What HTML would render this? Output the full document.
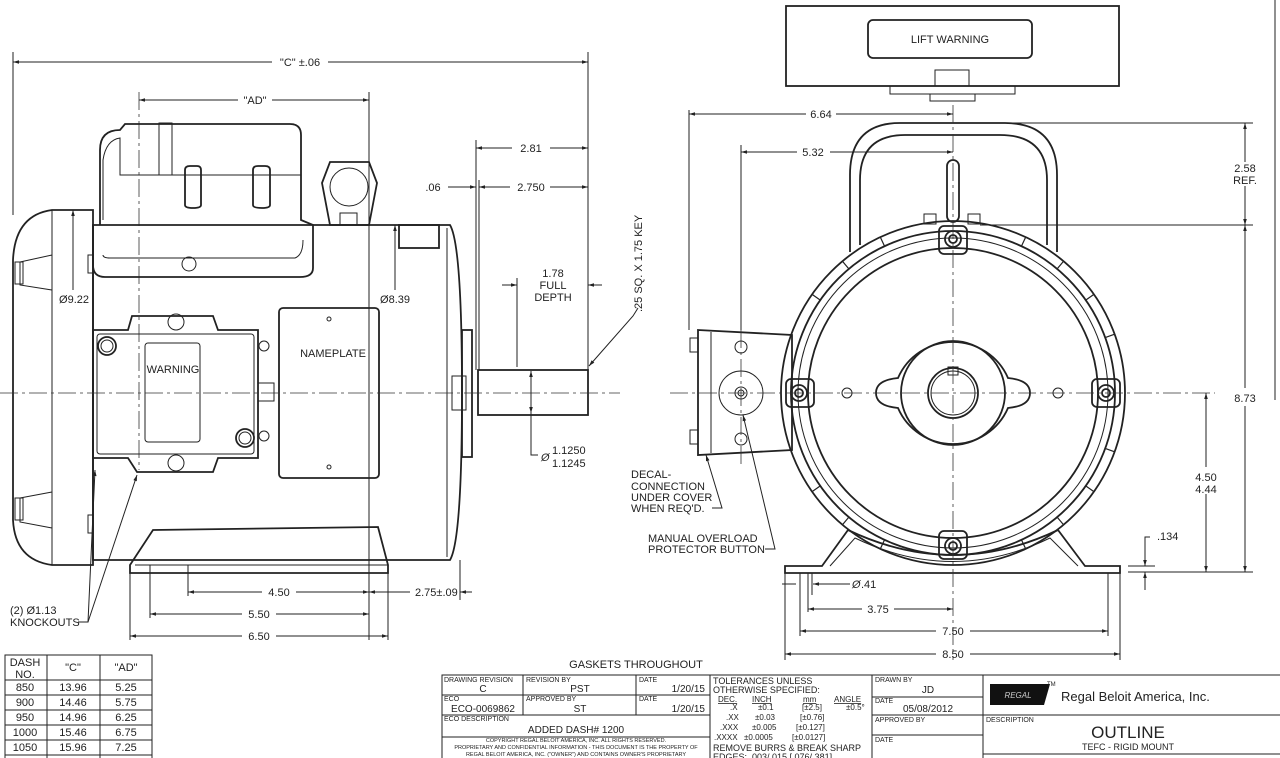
<!DOCTYPE html>
<html><head><meta charset="utf-8"><style>
html,body{margin:0;padding:0;background:#fff;}
svg{display:block;font-family:"Liberation Sans",sans-serif;}
text{fill:#222;}
.s{stroke:#222;stroke-width:1;fill:none;}
.t{stroke:#222;stroke-width:1.8;fill:none;}
.c{stroke:#333;stroke-width:0.8;fill:none;stroke-dasharray:18 4 3 4;}
.d{font-size:11px;}
.sm{font-size:7px;}
</style></head><body>
<svg width="1280" height="758" viewBox="0 0 1280 758" xmlns="http://www.w3.org/2000/svg">
<defs>
<marker id="a" viewBox="0 0 10 10" refX="10" refY="5" markerWidth="9" markerHeight="6" orient="auto-start-reverse"><path d="M0,2 L10,5 L0,8z" fill="#222"/></marker>
</defs>

<!-- ================= SIDE VIEW ================= -->
<line class="s" x1="13" y1="52" x2="13" y2="215"/>
<line class="s" x1="588" y1="52" x2="588" y2="370"/>
<line class="s" x1="13" y1="62" x2="272" y2="62" marker-start="url(#a)"/>
<line class="s" x1="328" y1="62" x2="588" y2="62" marker-end="url(#a)"/>
<text class="d" x="300" y="66" text-anchor="middle">"C" ±.06</text>
<line class="s" x1="369" y1="92" x2="369" y2="640"/>
<line class="c" x1="139" y1="92" x2="139" y2="470"/>
<line class="s" x1="139" y1="100" x2="238" y2="100" marker-start="url(#a)"/>
<line class="s" x1="272" y1="100" x2="369" y2="100" marker-end="url(#a)"/>
<text class="d" x="255" y="104" text-anchor="middle">"AD"</text>

<path class="t" d="M93,210 L52,210 Q15,215 13,260 L13,520 Q15,560 52,565 L93,565 Z"/>
<line class="s" x1="52" y1="210" x2="52" y2="565"/>
<path class="s" d="M20,262 L52,255 L52,290 L20,285 Z M20,498 L52,492 L52,528 L20,522 Z"/>
<rect class="s" x="15" y="262" width="8" height="22"/>
<rect class="s" x="15" y="498" width="8" height="22"/>
<path class="t" d="M93,225 L93,560 L450,560 Q462,540 462,393 Q462,245 450,225 Z"/>
<line class="s" x1="447" y1="228" x2="447" y2="557"/>
<rect class="s" x="88" y="255" width="5" height="18"/><rect class="s" x="88" y="515" width="5" height="18"/>
<path class="t" d="M100,225 L100,150 Q100,130 120,130 L125,124 L290,124 Q301,124 301,135 L301,220 L313,225 L313,268 Q313,277 300,277 L105,277 Q93,277 93,265 L93,225"/>
<path class="s" d="M103,220 L103,160 Q106,140 120,138 L120,175 L301,175"/>
<path class="s" d="M103,255 Q103,258 110,258 L295,258 Q303,255 303,240"/>
<rect class="s" x="159" y="123" width="13" height="52"/>
<path class="t" d="M185,205 L185,170 Q185,166 190,166 L197,166 Q201,166 201,170 L201,205 Q201,208 193,208 Q185,208 185,205Z"/>
<path class="t" d="M253,205 L253,170 Q253,166 258,166 L265,166 Q270,166 270,170 L270,205 Q270,208 262,208 Q253,208 253,205Z"/>
<circle class="s" cx="189" cy="264" r="7"/>
<path class="t" d="M330,162 L369,162 L377,183 L369,225 L330,225 L322,183 Z"/>
<circle class="s" cx="349" cy="187" r="19"/>
<rect class="s" x="340" y="213" width="17" height="12"/>
<rect class="t" x="399" y="225" width="40" height="23"/>
<path class="t" d="M93,330 L128,330 L132,316 L213,316 L218,330 L258,330 L258,458 L218,458 L213,472 L137,472 L128,458 L93,458 Z"/>
<rect class="s" x="97" y="334" width="157" height="120" rx="3"/>
<rect class="s" x="145" y="343" width="55" height="99" rx="3"/>
<text class="d" x="173" y="373" text-anchor="middle">WARNING</text>
<circle class="t" cx="107" cy="346" r="9"/><circle class="s" cx="107" cy="346" r="6"/>
<circle class="t" cx="245" cy="438" r="9"/><circle class="s" cx="245" cy="438" r="6"/>
<circle class="s" cx="176" cy="322" r="8"/><circle class="s" cx="176" cy="463" r="8"/>
<rect class="s" x="258" y="383" width="16" height="18"/>
<circle class="s" cx="264" cy="346" r="5"/><circle class="s" cx="264" cy="436" r="5"/>
<rect class="t" x="279" y="308" width="100" height="170" rx="4"/>
<text class="d" x="333" y="357" text-anchor="middle">NAMEPLATE</text>
<circle class="s" cx="329" cy="319" r="2"/><circle class="s" cx="329" cy="467" r="2"/>
<path class="t" d="M130,573 L130,565 L153,530 L378,527 L388,565 L388,573 Z"/>
<line class="s" x1="135" y1="565" x2="388" y2="565"/>
<rect class="t" x="462" y="330" width="10" height="127" fill="#444"/>
<rect class="s" x="452" y="376" width="14" height="34"/>
<rect class="t" x="478" y="370" width="110" height="45"/>
<line class="c" x1="0" y1="393" x2="620" y2="393"/>
<line class="s" x1="476" y1="140" x2="476" y2="370"/>
<line class="s" x1="476" y1="148" x2="512" y2="148" marker-start="url(#a)"/>
<line class="s" x1="550" y1="148" x2="588" y2="148" marker-end="url(#a)"/>
<text class="d" x="531" y="152" text-anchor="middle">2.81</text>
<line class="s" x1="479" y1="180" x2="479" y2="370"/>
<line class="s" x1="448" y1="187" x2="476" y2="187" marker-end="url(#a)"/>
<text class="d" x="433" y="191" text-anchor="middle">.06</text>
<line class="s" x1="479" y1="187" x2="510" y2="187" marker-start="url(#a)"/>
<line class="s" x1="550" y1="187" x2="588" y2="187" marker-end="url(#a)"/>
<text class="d" x="531" y="191" text-anchor="middle">2.750</text>
<line class="s" x1="517" y1="278" x2="517" y2="367"/>
<line class="s" x1="502" y1="285" x2="517" y2="285" marker-end="url(#a)"/>
<line class="s" x1="602" y1="285" x2="588" y2="285" marker-end="url(#a)"/>
<text class="d" x="553" y="277" text-anchor="middle">1.78</text>
<text class="d" x="553" y="289" text-anchor="middle">FULL</text>
<text class="d" x="553" y="301" text-anchor="middle">DEPTH</text>
<text class="d" transform="translate(642,312) rotate(-90)">.25 SQ. X 1.75 KEY</text>
<path class="s" d="M638,308 L633,316 L589,366" marker-end="url(#a)"/>
<line class="s" x1="531" y1="371" x2="531" y2="413" marker-start="url(#a)" marker-end="url(#a)"/>
<path class="s" d="M531,413 L531,455 L538,455"/>
<text class="d" x="541" y="461" font-style="italic">Ø</text>
<text class="d" x="552" y="454">1.1250</text>
<text class="d" x="552" y="467">1.1245</text>
<line class="s" x1="73" y1="210" x2="73" y2="290" marker-start="url(#a)"/>
<text class="d" x="74" y="303" text-anchor="middle">Ø9.22</text>
<line class="s" x1="395" y1="225" x2="395" y2="290" marker-start="url(#a)"/>
<text class="d" x="395" y="303" text-anchor="middle">Ø8.39</text>
<line class="s" x1="130" y1="573" x2="130" y2="640"/>
<line class="s" x1="150" y1="565" x2="150" y2="618"/>
<line class="s" x1="188" y1="565" x2="188" y2="596"/>
<line class="s" x1="388" y1="573" x2="388" y2="640"/>
<line class="s" x1="460" y1="560" x2="460" y2="600"/>
<line class="s" x1="188" y1="592" x2="262" y2="592" marker-start="url(#a)"/>
<line class="s" x1="296" y1="592" x2="369" y2="592" marker-end="url(#a)"/>
<text class="d" x="279" y="596" text-anchor="middle">4.50</text>
<line class="s" x1="369" y1="592" x2="388" y2="592" marker-start="url(#a)"/>
<line class="s" x1="388" y1="592" x2="410" y2="592"/>
<line class="s" x1="472" y1="592" x2="460" y2="592" marker-end="url(#a)"/>
<text class="d" x="415" y="596">2.75±.09</text>
<line class="s" x1="150" y1="614" x2="242" y2="614" marker-start="url(#a)"/>
<line class="s" x1="276" y1="614" x2="369" y2="614" marker-end="url(#a)"/>
<text class="d" x="259" y="618" text-anchor="middle">5.50</text>
<line class="s" x1="130" y1="636" x2="242" y2="636" marker-start="url(#a)"/>
<line class="s" x1="276" y1="636" x2="388" y2="636" marker-end="url(#a)"/>
<text class="d" x="259" y="640" text-anchor="middle">6.50</text>
<text class="d" x="10" y="614">(2) Ø1.13</text>
<text class="d" x="10" y="626">KNOCKOUTS</text>
<path class="s" d="M78,622 L88,622 L95,470" marker-end="url(#a)"/>
<path class="s" d="M88,622 L137,475" marker-end="url(#a)"/>

<!-- ================= END VIEW ================= -->
<rect class="t" x="786" y="6" width="333" height="80"/>
<rect class="t" x="868" y="20" width="164" height="38" rx="5"/>
<text class="d" x="950" y="43" text-anchor="middle">LIFT WARNING</text>
<rect class="s" x="935" y="70" width="34" height="16"/>
<rect class="s" x="890" y="86" width="125" height="8"/>
<rect class="s" x="930" y="94" width="45" height="7"/>
<path class="t" d="M850,252 L850,175 Q850,123 900,123 L1005,123 Q1057,123 1057,175 L1057,252"/>
<path class="t" d="M860,245 L860,180 Q860,135 905,135 L1000,135 Q1047,135 1047,180 L1047,245"/>
<rect class="t" x="947" y="160" width="12" height="62" rx="6"/>
<circle class="t" cx="953" cy="393" r="172"/>
<circle class="t" cx="953" cy="393" r="162"/>
<circle class="s" cx="953" cy="393" r="155"/>
<circle class="t" cx="953" cy="393" r="145"/>
<g stroke="#222" stroke-width="1.2">
<line x1="953" y1="221" x2="953" y2="231" transform="rotate(25 953 393)"/><line x1="953" y1="221" x2="953" y2="231" transform="rotate(40 953 393)"/>
<line x1="953" y1="221" x2="953" y2="231" transform="rotate(55 953 393)"/><line x1="953" y1="221" x2="953" y2="231" transform="rotate(70 953 393)"/>
<line x1="953" y1="221" x2="953" y2="231" transform="rotate(110 953 393)"/><line x1="953" y1="221" x2="953" y2="231" transform="rotate(125 953 393)"/>
<line x1="953" y1="221" x2="953" y2="231" transform="rotate(140 953 393)"/><line x1="953" y1="221" x2="953" y2="231" transform="rotate(155 953 393)"/>
<line x1="953" y1="221" x2="953" y2="231" transform="rotate(-25 953 393)"/><line x1="953" y1="221" x2="953" y2="231" transform="rotate(-40 953 393)"/>
<line x1="953" y1="221" x2="953" y2="231" transform="rotate(-55 953 393)"/><line x1="953" y1="221" x2="953" y2="231" transform="rotate(-125 953 393)"/>
<line x1="953" y1="221" x2="953" y2="231" transform="rotate(-140 953 393)"/><line x1="953" y1="221" x2="953" y2="231" transform="rotate(-155 953 393)"/>
</g>
<g class="t">
<rect x="939" y="226" width="28" height="28" rx="5"/><circle cx="953" cy="239" r="8"/><circle cx="953" cy="239" r="4"/>
<rect x="939" y="531" width="28" height="28" rx="5"/><circle cx="953" cy="546" r="8"/><circle cx="953" cy="546" r="4"/>
<rect x="786" y="379" width="28" height="28" rx="5"/><circle cx="799" cy="393" r="8"/><circle cx="799" cy="393" r="4"/>
<rect x="1092" y="379" width="28" height="28" rx="5"/><circle cx="1106" cy="393" r="8"/><circle cx="1106" cy="393" r="4"/>
</g>
<g class="s">
<circle cx="847" cy="393" r="5"/><circle cx="1058" cy="393" r="5"/>
<rect x="924" y="214" width="12" height="10"/><rect x="968" y="214" width="12" height="10"/>
</g>
<path class="t" d="M898,378 A60,60 0 0 1 1008,378 Q1030,380 1030,393 Q1030,406 1008,408 A60,60 0 0 1 898,408 Q876,406 876,393 Q876,380 898,378Z"/>
<circle class="t" cx="953" cy="393" r="52"/>
<circle class="t" cx="953" cy="393" r="25"/>
<circle class="s" cx="953" cy="393" r="22"/>
<rect class="s" x="948" y="367" width="10" height="8"/>
<path class="t" d="M698,330 L792,335 L792,450 L698,455 Z"/>
<line class="s" x1="711" y1="332" x2="711" y2="453"/>
<rect class="s" x="690" y="338" width="8" height="14"/><rect class="s" x="690" y="430" width="8" height="14"/>
<circle class="s" cx="741" cy="393" r="22"/><circle class="s" cx="741" cy="393" r="6"/><circle class="s" cx="741" cy="393" r="3"/>
<circle class="s" cx="741" cy="347" r="6"/><circle class="s" cx="741" cy="439" r="6"/>
<path class="t" d="M785,573 L785,566 L822,566 L848,530 Q953,580 1058,530 L1085,566 L1120,566 L1120,573 Z"/>
<path class="s" d="M830,566 L855,538 Q953,585 1050,538 L1078,566"/>
<line class="c" x1="953" y1="105" x2="953" y2="660"/>
<line class="c" x1="670" y1="393" x2="1215" y2="393"/>
<line class="c" x1="741" y1="330" x2="741" y2="465"/>
<line class="s" x1="689" y1="110" x2="689" y2="330"/>
<line class="s" x1="689" y1="114" x2="806" y2="114" marker-start="url(#a)"/>
<line class="s" x1="836" y1="114" x2="953" y2="114" marker-end="url(#a)"/>
<text class="d" x="821" y="118" text-anchor="middle">6.64</text>
<line class="s" x1="741" y1="145" x2="741" y2="330"/>
<line class="s" x1="741" y1="152" x2="797" y2="152" marker-start="url(#a)"/>
<line class="s" x1="830" y1="152" x2="953" y2="152" marker-end="url(#a)"/>
<text class="d" x="813" y="156" text-anchor="middle">5.32</text>
<line class="s" x1="1010" y1="123" x2="1253" y2="123"/>
<line class="s" x1="980" y1="225" x2="1253" y2="225"/>
<line class="s" x1="1128" y1="572" x2="1253" y2="572"/>
<line class="s" x1="1245" y1="123" x2="1245" y2="162" marker-start="url(#a)"/>
<line class="s" x1="1245" y1="186" x2="1245" y2="225" marker-end="url(#a)"/>
<text class="d" x="1245" y="172" text-anchor="middle">2.58</text>
<text class="d" x="1245" y="184" text-anchor="middle">REF.</text>
<line class="s" x1="1245" y1="225" x2="1245" y2="388" marker-start="url(#a)"/>
<line class="s" x1="1245" y1="406" x2="1245" y2="572" marker-end="url(#a)"/>
<text class="d" x="1245" y="402" text-anchor="middle">8.73</text>
<line class="s" x1="1206" y1="393" x2="1206" y2="467" marker-start="url(#a)"/>
<line class="s" x1="1206" y1="494" x2="1206" y2="572" marker-end="url(#a)"/>
<text class="d" x="1206" y="481" text-anchor="middle">4.50</text>
<text class="d" x="1206" y="493" text-anchor="middle">4.44</text>
<line class="s" x1="1128" y1="566" x2="1155" y2="566"/>
<path class="s" d="M1150,537 L1145,537 L1145,566" marker-end="url(#a)"/>
<line class="s" x1="1145" y1="590" x2="1145" y2="572" marker-end="url(#a)"/>
<text class="d" x="1157" y="540">.134</text>
<line class="s" x1="785" y1="573" x2="785" y2="660"/>
<line class="s" x1="1120" y1="573" x2="1120" y2="660"/>
<line class="s" x1="800" y1="573" x2="800" y2="636"/>
<line class="s" x1="1108" y1="573" x2="1108" y2="636"/>
<line class="s" x1="808" y1="573" x2="808" y2="612"/>
<line class="s" x1="812" y1="573" x2="812" y2="595"/>
<line class="s" x1="782" y1="584" x2="796" y2="584"/>
<line class="s" x1="850" y1="584" x2="813" y2="584" marker-end="url(#a)"/>
<text class="d" x="852" y="588" font-style="italic">Ø</text>
<text class="d" x="861" y="588">.41</text>
<line class="s" x1="808" y1="609" x2="862" y2="609" marker-start="url(#a)"/>
<line class="s" x1="894" y1="609" x2="953" y2="609" marker-end="url(#a)"/>
<text class="d" x="878" y="613" text-anchor="middle">3.75</text>
<line class="s" x1="800" y1="631" x2="936" y2="631" marker-start="url(#a)"/>
<line class="s" x1="970" y1="631" x2="1108" y2="631" marker-end="url(#a)"/>
<text class="d" x="953" y="635" text-anchor="middle">7.50</text>
<line class="s" x1="785" y1="654" x2="936" y2="654" marker-start="url(#a)"/>
<line class="s" x1="970" y1="654" x2="1120" y2="654" marker-end="url(#a)"/>
<text class="d" x="953" y="658" text-anchor="middle">8.50</text>
<text class="d" x="631" y="478">DECAL-</text>
<text class="d" x="631" y="490">CONNECTION</text>
<text class="d" x="631" y="501">UNDER COVER</text>
<text class="d" x="631" y="512">WHEN REQ'D.</text>
<path class="s" d="M712,508 L722,508 L706,455" marker-end="url(#a)"/>
<text class="d" x="648" y="542">MANUAL OVERLOAD</text>
<text class="d" x="648" y="553">PROTECTOR BUTTON</text>
<path class="s" d="M765,549 L775,549 L743,415" marker-end="url(#a)"/>
<line class="s" x1="1275" y1="0" x2="1275" y2="400"/>

<!-- ================= DASH TABLE ================= -->
<g class="s">
<rect x="5" y="655" width="147" height="110"/>
<line x1="47" y1="655" x2="47" y2="758"/><line x1="100" y1="655" x2="100" y2="758"/>
<line x1="5" y1="680" x2="152" y2="680"/><line x1="5" y1="695" x2="152" y2="695"/>
<line x1="5" y1="710" x2="152" y2="710"/><line x1="5" y1="725" x2="152" y2="725"/>
<line x1="5" y1="740" x2="152" y2="740"/><line x1="5" y1="755" x2="152" y2="755"/>
</g>
<g class="d" text-anchor="middle">
<text x="25" y="666">DASH</text><text x="25" y="678">NO.</text>
<text x="73" y="671">"C"</text><text x="126" y="671">"AD"</text>
<text x="25" y="691">850</text><text x="73" y="691">13.96</text><text x="126" y="691">5.25</text>
<text x="25" y="706">900</text><text x="73" y="706">14.46</text><text x="126" y="706">5.75</text>
<text x="25" y="721">950</text><text x="73" y="721">14.96</text><text x="126" y="721">6.25</text>
<text x="25" y="736">1000</text><text x="73" y="736">15.46</text><text x="126" y="736">6.75</text>
<text x="25" y="751">1050</text><text x="73" y="751">15.96</text><text x="126" y="751">7.25</text>
</g>

<!-- ================= TITLE BLOCK ================= -->
<text class="d" x="636" y="668" text-anchor="middle">GASKETS THROUGHOUT</text>
<g class="s">
<rect x="442" y="675" width="840" height="90"/>
<line x1="523" y1="675" x2="523" y2="715"/><line x1="636" y1="675" x2="636" y2="715"/>
<line x1="710" y1="675" x2="710" y2="758"/><line x1="872" y1="675" x2="872" y2="758"/>
<line x1="983" y1="675" x2="983" y2="758"/>
<line x1="442" y1="695" x2="710" y2="695"/><line x1="442" y1="715" x2="710" y2="715"/>
<line x1="442" y1="737" x2="710" y2="737"/>
<line x1="872" y1="697" x2="983" y2="697"/><line x1="872" y1="715" x2="1280" y2="715"/>
<line x1="872" y1="735" x2="983" y2="735"/>
</g>
<g class="sm">
<text x="444" y="682">DRAWING REVISION</text><text x="526" y="682">REVISION BY</text><text x="639" y="682">DATE</text>
<text x="444" y="701">ECO</text><text x="526" y="701">APPROVED BY</text><text x="639" y="701">DATE</text>
<text x="444" y="721">ECO DESCRIPTION</text>
<text x="875" y="682">DRAWN BY</text><text x="875" y="703">DATE</text>
<text x="875" y="722">APPROVED BY</text><text x="875" y="742">DATE</text>
<text x="986" y="722">DESCRIPTION</text>
<text x="576" y="742" text-anchor="middle" font-size="5.5">COPYRIGHT REGAL BELOIT AMERICA, INC. ALL RIGHTS RESERVED.</text>
<text x="576" y="749" text-anchor="middle" font-size="5.5">PROPRIETARY AND CONFIDENTIAL INFORMATION - THIS DOCUMENT IS THE PROPERTY OF</text>
<text x="576" y="756" text-anchor="middle" font-size="5.5">REGAL BELOIT AMERICA, INC. ("OWNER") AND CONTAINS OWNER'S PROPRIETARY</text>
</g>
<g style="font-size:10px">
<text x="483" y="692" text-anchor="middle">C</text><text x="580" y="692" text-anchor="middle">PST</text><text x="705" y="692" text-anchor="end">1/20/15</text>
<text x="483" y="712" text-anchor="middle">ECO-0069862</text><text x="580" y="712" text-anchor="middle">ST</text><text x="705" y="712" text-anchor="end">1/20/15</text>
<text x="576" y="733" text-anchor="middle">ADDED DASH# 1200</text>
<text x="928" y="693" text-anchor="middle">JD</text><text x="928" y="712" text-anchor="middle">05/08/2012</text>
<text x="713" y="684" style="font-size:9px">TOLERANCES UNLESS</text>
<text x="713" y="693" style="font-size:9px">OTHERWISE SPECIFIED:</text>
<text x="713" y="751" style="font-size:9px">REMOVE BURRS &amp; BREAK SHARP</text>
<text x="713" y="760" style="font-size:9px">EDGES: .003/.015 [.076/.381]</text>
</g>
<g style="font-size:8px">
<text x="718" y="702" text-decoration="underline">DEC.</text><text x="752" y="702" text-decoration="underline">INCH</text><text x="803" y="702" text-decoration="underline">mm</text><text x="834" y="702" text-decoration="underline">ANGLE</text>
<text x="730" y="710">.X</text><text x="758" y="710">±0.1</text><text x="802" y="710">[±2.5]</text><text x="846" y="710">±0.5°</text>
<text x="726" y="720">.XX</text><text x="755" y="720">±0.03</text><text x="800" y="720">[±0.76]</text>
<text x="720" y="730">.XXX</text><text x="752" y="730">±0.005</text><text x="796" y="730">[±0.127]</text>
<text x="714" y="740">.XXXX</text><text x="744" y="740">±0.0005</text><text x="792" y="740">[±0.0127]</text>
</g>
<path d="M990,684 L1050,684 L1044,705 L990,705 Z" fill="#111"/>
<text x="1018" y="698" text-anchor="middle" style="font-size:8px;fill:#ccc;font-style:italic">REGAL</text>
<text x="1047" y="686" style="font-size:6px">TM</text>
<text x="1061" y="701" style="font-size:13px">Regal Beloit America, Inc.</text>
<text x="1128" y="738" text-anchor="middle" style="font-size:17px">OUTLINE</text>
<text x="1128" y="750" text-anchor="middle" style="font-size:9px">TEFC - RIGID MOUNT</text>
<line class="s" x1="983" y1="754" x2="1280" y2="754"/>
</svg>
</body></html>
